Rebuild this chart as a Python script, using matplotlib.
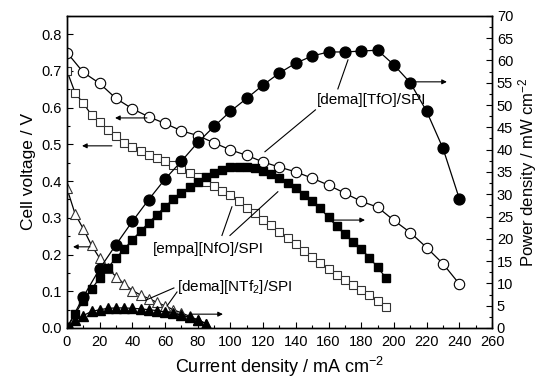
import matplotlib
matplotlib.use("Agg")
import matplotlib.pyplot as plt
from matplotlib.ticker import MultipleLocator, FormatStrFormatter

plt.rcParams['font.family'] = ['Liberation Sans', 'DejaVu Sans']
plt.rcParams['mathtext.fontset'] = 'custom'
plt.rcParams['mathtext.rm'] = 'Liberation Sans'
plt.rcParams['mathtext.it'] = 'Liberation Sans'

# [dema][TfO]/SPI
tfo_current = [0, 10, 20, 30, 40, 50, 60, 70, 80, 90, 100, 110, 120,
               130, 140, 150, 160, 170, 180, 190, 200, 210, 220, 230, 240]
tfo_voltage = [0.750, 0.696, 0.666, 0.625, 0.597, 0.575, 0.557, 0.537,
               0.524, 0.504, 0.485, 0.470, 0.452, 0.438, 0.425, 0.408,
               0.389, 0.367, 0.345, 0.329, 0.293, 0.260, 0.219, 0.175, 0.120]
tfo_power = [0, 7.0, 13.3, 18.7, 23.9, 28.8, 33.4, 37.4, 41.6, 45.2, 48.6,
             51.5, 54.5, 57.2, 59.4, 61.0, 61.9, 61.9, 62.1, 62.3, 59.0,
             55.0, 48.6, 40.3, 29.0]

# [empa][NfO]/SPI
nfo_current = [0, 5, 10, 15, 20, 25, 30, 35, 40, 45, 50, 55, 60, 65, 70, 75,
               80, 85, 90, 95, 100, 105, 110, 115, 120, 125, 130, 135, 140,
               145, 150, 155, 160, 165, 170, 175, 180, 185, 190, 195]
nfo_voltage = [0.700, 0.640, 0.612, 0.580, 0.562, 0.540, 0.522, 0.505, 0.494,
               0.482, 0.471, 0.462, 0.454, 0.444, 0.432, 0.422, 0.410, 0.398,
               0.386, 0.374, 0.362, 0.345, 0.328, 0.312, 0.295, 0.280, 0.262,
               0.245, 0.228, 0.210, 0.193, 0.177, 0.161, 0.145, 0.131, 0.118,
               0.104, 0.089, 0.074, 0.058]
nfo_power = [0, 3.2, 6.1, 8.7, 11.2, 13.5, 15.7, 17.7, 19.8, 21.7, 23.6, 25.4,
             27.2, 28.9, 30.2, 31.7, 32.8, 33.8, 34.7, 35.5, 36.0, 36.2, 36.1,
             35.8, 35.3, 34.6, 33.7, 32.6, 31.3, 29.9, 28.4, 26.8, 24.8, 22.8,
             21.0, 19.3, 17.7, 15.8, 13.6, 11.3]

# [dema][NTf2]/SPI
ntf_current = [0, 5, 10, 15, 20, 25, 30, 35, 40, 45, 50, 55, 60, 65, 70, 75,
               80, 85]
ntf_voltage = [0.380, 0.310, 0.270, 0.225, 0.190, 0.162, 0.140, 0.120, 0.102,
               0.090, 0.080, 0.070, 0.060, 0.050, 0.041, 0.032, 0.022, 0.012]
ntf_power = [0, 1.7, 2.8, 3.7, 4.1, 4.4, 4.5, 4.5, 4.4, 4.3, 4.1, 3.9, 3.6,
             3.3, 2.9, 2.4, 1.8, 1.0]

fig = plt.figure(figsize=(5.38, 3.79), dpi=100)
ax = fig.add_axes([0.1245, 0.1346, 0.790, 0.8236])
ax2 = ax.twinx()

open_kw = dict(color='black', linewidth=0.9, markerfacecolor='white',
               markeredgewidth=0.8)
ax.plot(tfo_current, tfo_voltage, 'o-', markersize=7.5,
        markeredgecolor='black', **open_kw)
ax.plot(nfo_current, nfo_voltage, 's-', markersize=6,
        markeredgecolor='#333333', **open_kw)
ax.plot(ntf_current, ntf_voltage, '^-', markersize=7,
        markeredgecolor='#333333', **open_kw)

ax2.plot(tfo_current, tfo_power, 'o-', color='black', markersize=7.8,
         linewidth=0.9)
ax2.plot(nfo_current, nfo_power, 's-', color='black', markersize=6,
         linewidth=0.9)
ax2.plot(ntf_current, ntf_power, '^-', color='black', markersize=6.5,
         linewidth=0.9)

ax.set_xlim(0, 260)
ax.set_ylim(0, 0.85)
ax2.set_ylim(0, 70)

ax.xaxis.set_major_locator(MultipleLocator(20))
ax.xaxis.set_minor_locator(MultipleLocator(10))
ax.yaxis.set_major_locator(MultipleLocator(0.1))
ax.yaxis.set_minor_locator(MultipleLocator(0.05))
ax.yaxis.set_major_formatter(FormatStrFormatter('%.1f'))
ax2.yaxis.set_major_locator(MultipleLocator(5))
ax2.yaxis.set_minor_locator(MultipleLocator(2.5))

ax.tick_params(which='both', direction='in', top=False, right=False,
               labelsize=10.5, width=0.8)
ax.tick_params(which='major', length=4)
ax.tick_params(which='minor', length=2.2)
ax.tick_params(axis='x', pad=5)
ax2.tick_params(which='both', direction='in', labelsize=10.5, width=0.8)
ax2.tick_params(which='major', length=4)
ax2.tick_params(which='minor', length=2.2)
for a in (ax, ax2):
    for s in a.spines.values():
        s.set_linewidth(1.0)

ax.set_xlabel('Current density / mA cm$^{-2}$', fontsize=13, labelpad=4)
ax.set_ylabel('Cell voltage / V', fontsize=12.5, labelpad=4)
ax2.set_ylabel('Power density / mW cm$^{-2}$', fontsize=12, labelpad=2)

arrow = dict(arrowstyle='-|>', color='black', lw=0.8, mutation_scale=7,
             shrinkA=0, shrinkB=0)
# arrows pointing to the voltage axis
ax.annotate('', xy=(29.4, 0.572), xytext=(48.9, 0.572), arrowprops=arrow)
ax.annotate('', xy=(9.2, 0.496), xytext=(27.5, 0.496), arrowprops=arrow)
ax.annotate('', xy=(3.7, 0.221), xytext=(14.1, 0.221), arrowprops=arrow)
# arrows pointing to the power axis
ax2.annotate('', xy=(95.4, 3.1), xytext=(76.5, 3.1), arrowprops=arrow)
ax2.annotate('', xy=(182.3, 24.2), xytext=(162.7, 24.2), arrowprops=arrow)
ax2.annotate('', xy=(232.4, 55.2), xytext=(212.8, 55.2), arrowprops=arrow)

# labels with leader lines (positions in voltage units, scaled to power axis)
k = 70 / 0.85
ax2.text(153, 0.62 * k, '[dema][TfO]/SPI', fontsize=11,
         ha='left', va='center')
ax2.plot([165.7, 171.9], [0.651 * k, 0.730 * k], color='black', lw=0.8)
ax2.plot([152.0, 121.1], [0.594 * k, 0.480 * k], color='black', lw=0.8)

ax2.text(52.6, 0.215 * k, '[empa][NfO]/SPI', fontsize=11,
         ha='left', va='center')
ax2.plot([94.8, 100.9], [0.252 * k, 0.33 * k], color='black', lw=0.8)
ax2.plot([99.7, 129.0], [0.252 * k, 0.371 * k], color='black', lw=0.8)

ax2.text(67, 0.112 * k, '[dema][NTf$_2$]/SPI', fontsize=11,
         ha='left', va='center')
ax2.plot([65.4, 48.3], [0.109 * k, 0.076 * k], color='black', lw=0.8)
ax2.plot([67.3, 61.2], [0.098 * k, 0.060 * k], color='black', lw=0.8)

fig.savefig('out.png', dpi=100)
